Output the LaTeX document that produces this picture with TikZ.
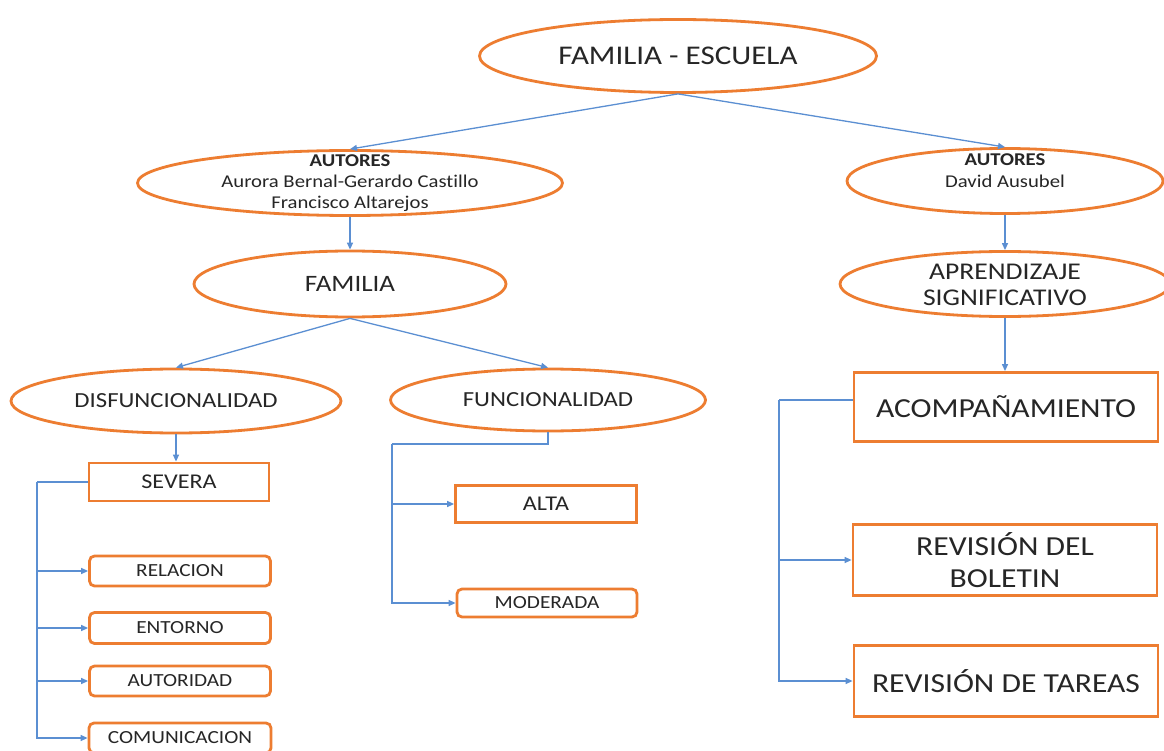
\documentclass[tikz,border=0pt]{standalone}
\usepackage{fontspec}
\setmainfont{Carlito}[FakeStretch=1.15,Ligatures=NoCommon]
\usetikzlibrary{shapes.geometric,arrows.meta}
\definecolor{borange}{HTML}{ED7D31}
\definecolor{lblue}{HTML}{5B8FD2}
\definecolor{txtc}{HTML}{262626}
\newcommand{\fsz}[2]{\fontsize{#1pt}{#2pt}\selectfont}
\tikzset{
  ell/.style={ellipse, draw=borange, line width=2.8pt, inner sep=0pt, text=txtc},
  box/.style={rectangle, draw=borange, line width=2.8pt, inner sep=0pt, text=txtc, align=center},
  rbox/.style={box, rounded corners=5pt},
  lab/.style={text=txtc, align=center, inner sep=0pt},
  conn/.style={draw=lblue, line width=1.3pt, -{Triangle[length=7pt,width=6pt]}},
  plainline/.style={draw=lblue, line width=1.3pt}
}
\begin{document}
\begin{tikzpicture}[x=1pt,y=-1pt]
\useasboundingbox (0,0) rectangle (1164,751);
\fill[white] (0,0) rectangle (1164,751);

% ellipses
\node[ell, minimum width=397, minimum height=73, font=\fsz{27}{32}] (top) at (678,56) {FAMILIA - ESCUELA};
\node[ell, minimum width=425, minimum height=65] (aL) at (350,183) {};
\node[lab, font=\fsz{18}{21}] (aLt) at (350,183) {\textbf{AUTORES}\\Aurora Bernal-Gerardo Castillo\\Francisco Altarejos};
\node[ell, minimum width=316, minimum height=65] (aR) at (1005,181) {};
\node[lab, font=\fsz{18}{22}] (aRt) at (1005,171) {\textbf{AUTORES}\\David Ausubel};
\node[ell, minimum width=312, minimum height=66, font=\fsz{23.5}{28}] (fam) at (350,284) {FAMILIA};
\node[ell, minimum width=330, minimum height=65] (apr) at (1005,284) {};
\node[lab, font=\fsz{24}{26}] (aprt) at (1005,285) {APRENDIZAJE\\SIGNIFICATIVO};
\node[ell, minimum width=330, minimum height=64, font=\fsz{21.5}{26}] (dis) at (176,401) {DISFUNCIONALIDAD};
\node[ell, minimum width=315, minimum height=62, font=\fsz{21.5}{26}] (fun) at (548,400) {FUNCIONALIDAD};

% boxes
\node[box, minimum width=180, minimum height=38, font=\fsz{21}{25}] (sev) at (179,482) {SEVERA};
\node[rbox, minimum width=181, minimum height=30, font=\fsz{18.5}{22}] (rel) at (180,571) {RELACION};
\node[rbox, minimum width=181, minimum height=31, font=\fsz{18.5}{22}] (ent) at (180,628) {ENTORNO};
\node[rbox, minimum width=181, minimum height=30, font=\fsz{18.5}{22}] (aut) at (180,681) {AUTORIDAD};
\node[rbox, minimum width=182, minimum height=30, font=\fsz{18.5}{22}] (com) at (180,738) {COMUNICACION};
\node[box, minimum width=181, minimum height=37, font=\fsz{21}{25}] (alta) at (546,504) {ALTA};
\node[rbox, minimum width=180, minimum height=28, font=\fsz{18.5}{22}] (mod) at (547,603) {MODERADA};
\node[box, minimum width=304, minimum height=69, font=\fsz{27.5}{32}] (aco) at (1006,407) {ACOMPAÑAMIENTO};
\node[box, minimum width=304, minimum height=71, font=\fsz{27.5}{32}] (bol) at (1005,560) {REVISIÓN DEL\\BOLETIN};
\node[box, minimum width=304, minimum height=71, font=\fsz{27.5}{32}] (tar) at (1006,681) {REVISIÓN DE TAREAS};

% connectors
\draw[conn] (top.south) -- (aL.north);
\draw[conn] (top.south) -- (aR.north);
\draw[conn] (aL.south) -- (fam.north);
\draw[conn] (aR.south) -- (apr.north);
\draw[conn] (fam.south) -- (dis.north);
\draw[conn] (fam.south) -- (fun.north);
\draw[conn] (dis.south) -- (dis.south |- sev.north);
\draw[conn] (apr.south) -- (apr.south |- aco.north);

\coordinate (sj) at (37,482);
\draw[plainline] (sev.west) -- (sj);
\foreach \n in {rel,ent,aut,com} \draw[conn] (sj) |- (\n.west);

\coordinate (fj) at (392,444);
\draw[plainline] (fun.south) |- (fj);
\draw[conn] (fj) |- (alta.west);
\draw[conn] (fj) |- (mod.west);

\coordinate (rj) at (779,400);
\draw[plainline] (rj -| aco.west) -- (rj);
\draw[conn] (rj) |- (bol.west);
\draw[conn] (rj) |- (tar.west);
\end{tikzpicture}
\end{document}
